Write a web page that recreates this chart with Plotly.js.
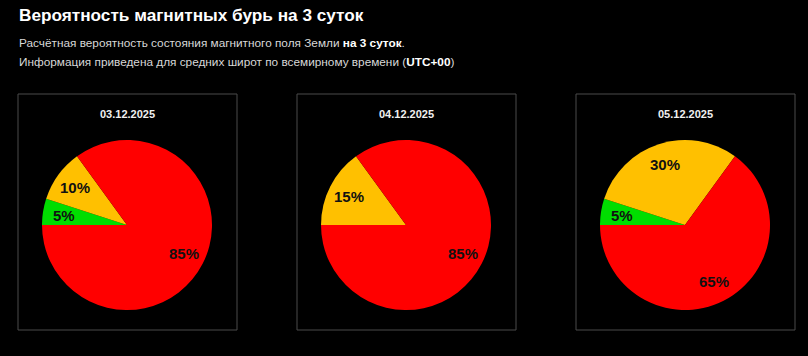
<!DOCTYPE html>
<html>
<head>
<meta charset="utf-8">
<script src="https://cdn.plot.ly/plotly-3.0.1.min.js"></script>
<style>
html,body{margin:0;padding:0;background:#000;}
#chart{width:808px;height:356px;}
</style>
</head>
<body>
<div id="chart"></div>
<script>
// Data
const dates = ["03.12.2025", "04.12.2025", "05.12.2025"];
const categories = ["Спокойно", "Возмущение", "Буря"];
const quiet = [5, 0, 5];
const disturbed = [10, 15, 30];
const storm = [85, 85, 65];
const sliceColors = ["#00dd00", "#ffc000", "#ff0000"];

const W = 808, H = 356;
const centersX = [127, 406, 685];
const centerY = 225;
const R = 85;
const labelFont = {family: "Liberation Sans, Arial, sans-serif", size: 15, color: "#111111", weight: "bold"};

const traces = [];
const shapes = [];
const annotations = [];

dates.forEach((d, i) => {
  const vals = [quiet[i], disturbed[i], storm[i]];
  const total = vals.reduce((a, b) => a + b, 0);
  const cx = centersX[i];
  traces.push({
    type: "pie",
    values: vals,
    labels: categories,
    textinfo: "none",
    sort: false,
    direction: "clockwise",
    rotation: 270,
    marker: {colors: sliceColors, line: {width: 0}},
    hoverinfo: "label+percent",
    showlegend: false,
    domain: {
      x: [(cx - R) / W, (cx + R) / W],
      y: [(H - centerY - R) / H, (H - centerY + R) / H]
    }
  });
  // value labels placed along each slice's bisector (clockwise from 9 o'clock)
  let cum = 0;
  vals.forEach(v => {
    if (v > 0) {
      const theta = 2 * Math.PI * (cum + v / 2) / total;
      const px = cx - Math.cos(theta) * R * 0.75;
      const py = (H - centerY) + Math.sin(theta) * R * 0.75;
      annotations.push({
        xref: "paper", yref: "paper",
        x: px / W, y: py / H,
        xanchor: "center", yanchor: "middle",
        text: "<b>" + v + "%</b>", showarrow: false,
        font: labelFont
      });
    }
    cum += v;
  });
  shapes.push({
    type: "rect", xref: "paper", yref: "paper",
    x0: (cx - 109) / W, x1: (cx + 110) / W,
    y0: (H - 330) / H, y1: (H - 94) / H,
    line: {color: "#4a4a4a", width: 1},
    fillcolor: "rgba(0,0,0,0)"
  });
  annotations.push({
    xref: "paper", yref: "paper",
    x: cx / W, y: (H - 114) / H,
    xanchor: "center", yanchor: "middle",
    text: "<b>" + d + "</b>", showarrow: false,
    font: {family: "Liberation Sans, Arial, sans-serif", size: 11, color: "#f0f0f0"}
  });
});

annotations.push({
  xref: "paper", yref: "paper",
  x: 17 / W, y: (H - 15) / H,
  xanchor: "left", yanchor: "middle",
  text: "<b>Вероятность магнитных бурь на 3 суток</b>", showarrow: false,
  font: {family: "Liberation Sans, Arial, sans-serif", size: 17.2, color: "#ffffff"}
});
annotations.push({
  xref: "paper", yref: "paper",
  x: 17 / W, y: (H - 43) / H,
  xanchor: "left", yanchor: "middle",
  text: "Расчётная вероятность состояния магнитного поля Земли <b style='color:#fff'>на 3 суток</b>.", showarrow: false,
  font: {family: "Liberation Sans, Arial, sans-serif", size: 11.8, color: "#d8d8d8"}
});
annotations.push({
  xref: "paper", yref: "paper",
  x: 17 / W, y: (H - 62) / H,
  xanchor: "left", yanchor: "middle",
  text: "Информация приведена для средних широт по всемирному времени (<b style='color:#fff'>UTC+00</b>)", showarrow: false,
  font: {family: "Liberation Sans, Arial, sans-serif", size: 11.8, color: "#d8d8d8"}
});

const layout = {
  width: W, height: H,
  margin: {l: 0, r: 0, t: 0, b: 0},
  paper_bgcolor: "#000000",
  plot_bgcolor: "#000000",
  shapes: shapes,
  annotations: annotations,
  showlegend: false
};

Plotly.newPlot("chart", traces, layout, {displayModeBar: false, staticPlot: true});
</script>
</body>
</html>
